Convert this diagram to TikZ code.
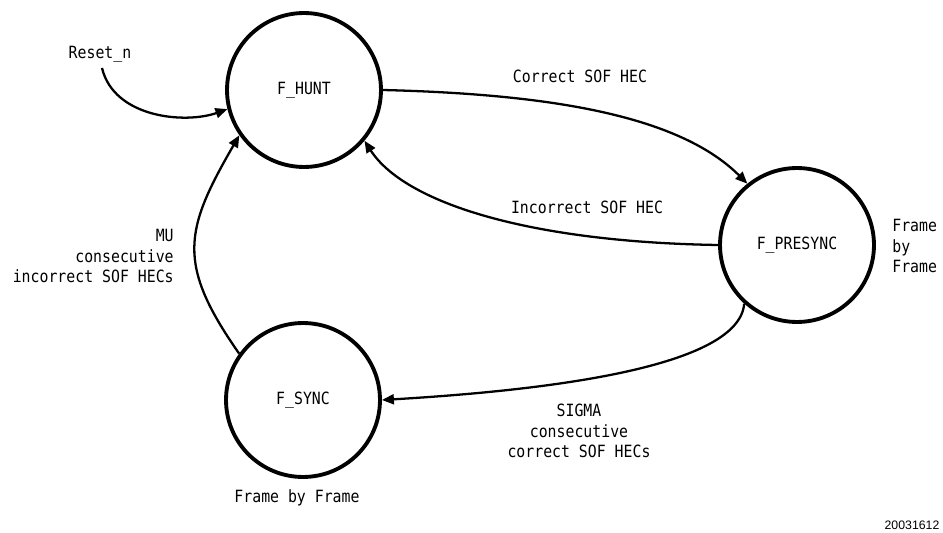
\documentclass[tikz,border=0pt]{standalone}
\usepackage{fontspec}
\newfontfamily\cadfont[FakeStretch=0.88]{DejaVu Sans Mono}
\newfontfamily\numfont{Liberation Sans}
\usetikzlibrary{arrows.meta,calc}
\tikzstyle{state} = [circle, draw, line width=2.2pt, minimum size=3.08cm, inner sep=0pt, font=\cadfont\fontsize{9.6}{11}\selectfont]
\tikzstyle{label} = [font=\cadfont\fontsize{9.6}{11.5}\selectfont, inner sep=0pt]
\tikzstyle{arrow} = [draw, line width=1.3pt, -{Triangle[length=0.24cm, width=0.2cm]}]
\begin{document}
\begin{tikzpicture}[x=0.02cm, y=0.02cm]
      \useasboundingbox (0, 0) rectangle (943, -533);
      \node [state] at (304,  -90) (hunt) {F\_HUNT};
      \node [state] at (797, -245) (presync) {F\_PRESYNC};
      \node [state] at (303, -400) (sync) {F\_SYNC};
      \coordinate (reset) at (102, -68);
      \node [label] at (100, -54) (lreset) {Reset\_n};
      \node [label] at (580, -76) (lcorrect) {Correct SOF HEC};
      \node [label] at (587, -207) (lincorrect) {Incorrect SOF HEC};
      \node [label, align=left, anchor=west] at (892, -246) (lpre) {Frame\\by\\Frame};
      \node [label, align=right, anchor=east] at (174, -256) (lmu) {MU\\consecutive\\incorrect SOF HECs};
      \node [label, align=center] at (579, -431) (lsigma) {SIGMA\\consecutive\\correct SOF HECs};
      \node [label] at (297, -498) (lsync) {Frame by Frame};
      \node [font=\numfont\fontsize{7}{8}\selectfont, inner sep=0pt] at (912, -525) (fignum) {20031612};
      \path [arrow] (reset) .. controls +(12, -50) and +(-42, -15) .. (hunt.194);
      \path [arrow] (hunt.east) .. controls +(160, -4) and +(-70, 70) .. (presync.129);
      \path [arrow] (presync.west) .. controls +(-190, 3) and +(40, -62) .. (hunt.-40);
      \path [arrow] (presync.228) .. controls +(-5, -63) and +(170, 10) .. (sync.east);
      \path [arrow] (sync.144) .. controls +(-63, 90) and +(-55, -95) .. (hunt.215);
    \end{tikzpicture}
\end{document}
